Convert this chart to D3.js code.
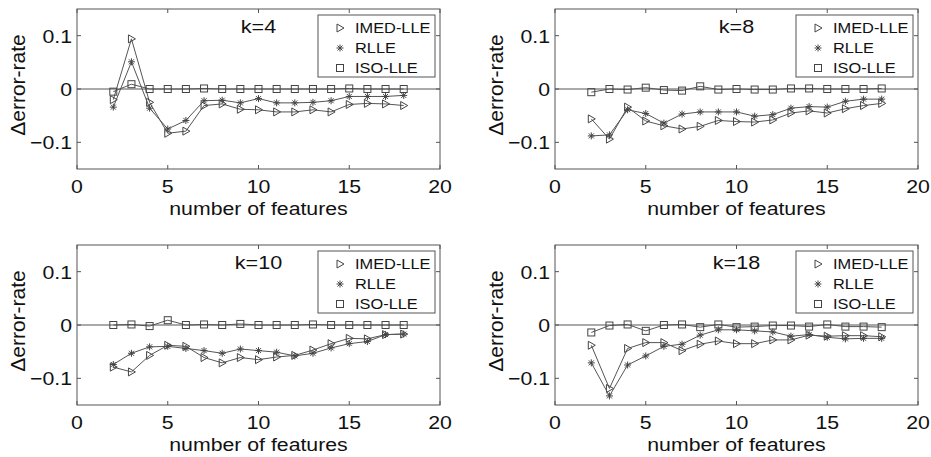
<!DOCTYPE html>
<html>
<head>
<meta charset="utf-8">
<script src="https://cdn.jsdelivr.net/npm/d3@7"></script>
<style>
  body { margin: 0; background: #fff; }
  svg { display: block; }
  text { font-family: "Liberation Sans", Arial, sans-serif; fill: #111; }
</style>
</head>
<body>
<div id="chart"></div>
<script>
// number of features (x values shared by all panels)
const features = [2, 3, 4, 5, 6, 7, 8, 9, 10, 11, 12, 13, 14, 15, 16, 17, 18];
const seriesNames = ["IMED-LLE", "RLLE", "ISO-LLE"];
const panelTitles = ["k=4", "k=8", "k=10", "k=18"];
const xTicks = [0, 5, 10, 15, 20];
const yTicks = [-0.1, 0, 0.1];

// k=4
const imedK4 = [-0.020, 0.094, -0.025, -0.083, -0.079, -0.031, -0.028, -0.038, -0.039, -0.043, -0.043, -0.039, -0.043, -0.029, -0.027, -0.028, -0.031];
const rlleK4 = [-0.034, 0.051, -0.036, -0.075, -0.059, -0.022, -0.021, -0.026, -0.018, -0.026, -0.026, -0.025, -0.022, -0.014, -0.014, -0.014, -0.012];
const isoK4  = [-0.005, 0.009, 0.000, 0.000, 0.000, 0.001, 0.000, 0.000, 0.000, 0.000, 0.000, 0.000, 0.000, 0.001, 0.000, 0.000, 0.000];
// k=8
const imedK8 = [-0.056, -0.094, -0.034, -0.060, -0.069, -0.075, -0.070, -0.059, -0.061, -0.062, -0.058, -0.045, -0.041, -0.045, -0.037, -0.031, -0.027];
const rlleK8 = [-0.088, -0.086, -0.039, -0.046, -0.064, -0.047, -0.043, -0.043, -0.043, -0.051, -0.048, -0.036, -0.033, -0.034, -0.023, -0.019, -0.019];
const isoK8  = [-0.006, 0.000, -0.001, 0.0025, -0.002, -0.003, 0.005, -0.001, 0.000, -0.001, -0.001, 0.001, 0.001, 0.000, 0.000, 0.000, 0.001];
// k=10
const imedK10 = [-0.079, -0.088, -0.057, -0.038, -0.040, -0.061, -0.071, -0.061, -0.065, -0.060, -0.057, -0.047, -0.035, -0.025, -0.026, -0.018, -0.017];
const rlleK10 = [-0.074, -0.053, -0.041, -0.040, -0.044, -0.048, -0.053, -0.045, -0.048, -0.051, -0.058, -0.053, -0.043, -0.035, -0.031, -0.018, -0.017];
const isoK10  = [0.000, 0.001, -0.002, 0.009, 0.000, 0.001, 0.000, 0.002, 0.000, 0.000, 0.000, 0.001, 0.000, 0.000, 0.000, 0.000, 0.000];
// k=18
const imedK18 = [-0.038, -0.119, -0.044, -0.033, -0.033, -0.048, -0.036, -0.030, -0.035, -0.035, -0.028, -0.028, -0.019, -0.021, -0.020, -0.020, -0.022];
const rlleK18 = [-0.071, -0.133, -0.075, -0.058, -0.040, -0.036, -0.019, -0.009, -0.009, -0.011, -0.013, -0.021, -0.018, -0.023, -0.026, -0.025, -0.025];
const isoK18  = [-0.014, -0.001, 0.001, -0.011, 0.000, 0.001, -0.004, 0.001, -0.004, -0.003, -0.001, -0.001, -0.003, 0.001, -0.003, -0.003, -0.004];

const panelSeries = [
    [imedK4, rlleK4, isoK4],
    [imedK8, rlleK8, isoK8],
    [imedK10, rlleK10, isoK10],
    [imedK18, rlleK18, isoK18]
];

const width = 931, height = 457;
const panelW = 363, panelH = 160;
const panelPos = [[77, 9], [555, 9], [77, 245], [555, 245]];
const sx = 1.15; // source picture is a bit wider than tall

const svg = d3.select("#chart").append("svg")
    .attr("width", width)
    .attr("height", height);

// horizontally stretched text
function stext(g, x, y, str, size, anchor, stretch) {
    return g.append("text")
        .attr("transform", `translate(${x},${y}) scale(${stretch},1)`)
        .attr("text-anchor", anchor)
        .attr("font-size", size)
        .text(str);
}

function drawMarker(g, type) {
    if (type === 0) {
        g.append("path").attr("d", "M-3,-4L4,0L-3,4Z");
    } else if (type === 1) {
        g.append("path").attr("d", "M-3.5,0H3.5M0,-3.5V3.5M-2.5,-2.5L2.5,2.5M-2.5,2.5L2.5,-2.5");
    } else {
        g.append("rect").attr("x", -3.5).attr("y", -3.5).attr("width", 7).attr("height", 7);
    }
}

panelPos.forEach(([px, py], i) => {
    const g = svg.append("g").attr("transform", `translate(${px},${py})`);

    const x = d3.scaleLinear().domain([0, 20]).range([0, panelW]);
    const y = d3.scaleLinear().domain([-0.15, 0.15]).range([panelH, 0]);

    // zero line
    g.append("line")
        .attr("x1", 0).attr("x2", panelW)
        .attr("y1", y(0)).attr("y2", y(0))
        .attr("stroke", "#555").attr("stroke-width", 1);

    // series lines and markers
    panelSeries[i].forEach((vals, s) => {
        const pts = features.map((f, j) => [f, vals[j]]);
        g.append("path")
            .datum(pts)
            .attr("fill", "none")
            .attr("stroke", "#555")
            .attr("stroke-width", 1)
            .attr("d", d3.line().x(d => x(d[0])).y(d => y(d[1])));

        g.selectAll(`.m${s}`)
            .data(pts)
            .enter()
            .append("g")
            .attr("class", `m${s}`)
            .attr("transform", d => `translate(${x(d[0])},${y(d[1])})`)
            .attr("fill", "none")
            .attr("stroke", "#444")
            .attr("stroke-width", 1)
            .each(function () { drawMarker(d3.select(this), s); });
    });

    // frame with inward ticks
    g.append("rect")
        .attr("x", 0).attr("y", 0)
        .attr("width", panelW).attr("height", panelH)
        .attr("fill", "none").attr("stroke", "#555").attr("stroke-width", 1);

    const tickLen = 4;
    xTicks.forEach(t => {
        g.append("line").attr("x1", x(t)).attr("x2", x(t))
            .attr("y1", panelH).attr("y2", panelH - tickLen).attr("stroke", "#555");
        g.append("line").attr("x1", x(t)).attr("x2", x(t))
            .attr("y1", 0).attr("y2", tickLen).attr("stroke", "#555");
        stext(g, x(t), panelH + 24, t, 18.5, "middle", sx);
    });
    yTicks.forEach(t => {
        g.append("line").attr("x1", 0).attr("x2", tickLen)
            .attr("y1", y(t)).attr("y2", y(t)).attr("stroke", "#555");
        g.append("line").attr("x1", panelW).attr("x2", panelW - tickLen)
            .attr("y1", y(t)).attr("y2", y(t)).attr("stroke", "#555");
        stext(g, -5, y(t) + 7, t === 0 ? "0" : d3.format(".1f")(t), 18.5, "end", sx);
    });

    // axis titles
    stext(g, panelW / 2, panelH + 46, "number of features", 18.5, "middle", sx);
    g.append("text")
        .attr("transform", `translate(-52,${panelH / 2 - 4}) rotate(-90)`)
        .attr("text-anchor", "middle")
        .attr("font-size", 21)
        .text("\u0394error-rate");

    // panel title
    stext(g, x(10), y(0.105), panelTitles[i], 18, "middle", 1.2);

    // legend
    const lg = g.append("g").attr("transform", `translate(${panelW - 122},6)`);
    lg.append("rect")
        .attr("width", 117).attr("height", 62)
        .attr("fill", "#fff").attr("stroke", "#555").attr("stroke-width", 1);
    seriesNames.forEach((name, s) => {
        const row = lg.append("g").attr("transform", `translate(0,${13 + s * 20})`);
        const m = row.append("g")
            .attr("transform", "translate(22,0)")
            .attr("fill", "none").attr("stroke", "#444").attr("stroke-width", 1);
        drawMarker(m, s);
        stext(row, 37, 5, name, 14, "start", 1.17);
    });
});
</script>
</body>
</html>
